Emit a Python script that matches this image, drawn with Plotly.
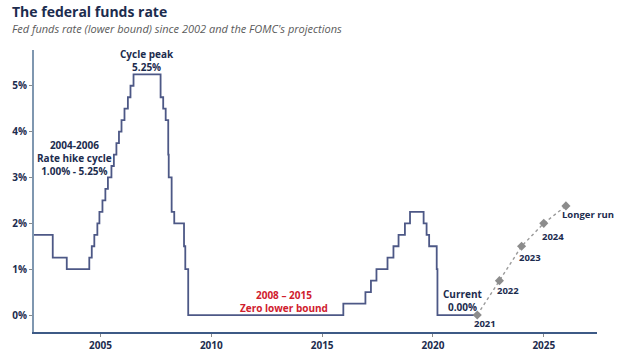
import plotly.graph_objects as go

# Fed funds rate (lower bound) change dates and levels
change_dates = [
    "2002-01-01", "2002-11-06", "2003-06-25", "2004-06-30", "2004-08-10", "2004-09-21",
    "2004-11-10", "2004-12-14", "2005-02-02", "2005-03-22", "2005-05-03", "2005-06-30",
    "2005-08-09", "2005-09-20", "2005-11-01", "2005-12-13", "2006-01-31", "2006-03-28",
    "2006-05-10", "2006-06-29", "2007-09-18", "2007-10-31", "2007-12-11", "2008-01-22",
    "2008-01-30", "2008-03-18", "2008-04-30", "2008-10-08", "2008-10-29", "2008-12-16",
    "2015-12-16", "2016-12-14", "2017-03-15", "2017-06-14", "2017-12-13", "2018-03-21",
    "2018-06-13", "2018-09-26", "2018-12-19", "2019-07-31", "2019-09-18", "2019-10-30",
    "2020-03-03", "2020-03-15", "2021-12-31",
]
rates = [
    1.75, 1.25, 1.00, 1.25, 1.50, 1.75,
    2.00, 2.25, 2.50, 2.75, 3.00, 3.25,
    3.50, 3.75, 4.00, 4.25, 4.50, 4.75,
    5.00, 5.25, 4.75, 4.50, 4.25, 3.50,
    3.00, 2.25, 2.00, 1.50, 1.00, 0.00,
    0.25, 0.50, 0.75, 1.00, 1.25, 1.50,
    1.75, 2.00, 2.25, 2.00, 1.75, 1.50,
    1.00, 0.00, 0.00,
]

# FOMC projections
proj_labels = ["2021", "2022", "2023", "2024", "Longer run"]
proj_dates = ["2021-12-31", "2022-12-31", "2023-12-31", "2024-12-31", "2025-12-31"]
proj_values = [0.00, 0.75, 1.50, 2.00, 2.38]

y_ticks = [0, 1, 2, 3, 4, 5]
y_tick_text = ["0%", "1%", "2%", "3%", "4%", "5%"]
x_ticks = ["2005-01-01", "2010-01-01", "2015-01-01", "2020-01-01", "2025-01-01"]
x_tick_text = ["2005", "2010", "2015", "2020", "2025"]

NAVY = "#1c2c4e"
LINE = "#4d5886"
RED = "#d0202e"
FONT = "Open Sans"

W, H = 624, 352
L, R, T, B = 34, 27, 50, 20
PW, PH = W - L - R, H - T - B

def px(xp):
    return (xp - L) / PW

def py(yp):
    return (H - B - yp) / PH

fig = go.Figure()
fig.add_trace(go.Scatter(
    x=change_dates, y=rates, mode="lines", line=dict(color=LINE, width=1.8, shape="hv"),
    hoverinfo="skip", showlegend=False, cliponaxis=False,
))
fig.add_trace(go.Scatter(
    x=proj_dates, y=proj_values, mode="lines+markers",
    line=dict(color="#9a9a9a", width=1.4, dash="dot"),
    marker=dict(symbol="diamond", size=7, color="#8c8c8c"),
    hoverinfo="skip", showlegend=False, cliponaxis=False,
))

ann = []
def add(text, x, y, color=NAVY, size=10, xanchor="center"):
    ann.append(dict(text=text, x=x, y=y, xref="x", yref="y", showarrow=False,
                    font=dict(family=FONT, size=size, color=color, weight=700),
                    xanchor=xanchor, yanchor="middle", align="center"))

add("Cycle peak<br>5.25%", "2007-02-03", 5.55)
add("2004-2006<br>Rate hike cycle<br>1.00% - 5.25%", "2003-11-01", 3.43)
add("2008 – 2015<br>Zero lower bound", "2013-04-08", 0.30, color=RED)
add("Current<br>0.00%", "2021-05-08", 0.31)
label_pos = [("2022-05-05", -0.19), ("2023-05-18", 0.53), ("2024-05-15", 1.25),
             ("2025-05-30", 1.71), ("2026-12-28", 2.19)]
for lab, (lx, ly) in zip(proj_labels, label_pos):
    add(lab, lx, ly, size=9.5)

ann.append(dict(text="<b>The federal funds rate</b>", x=px(10), y=py(12),
                xref="paper", yref="paper", showarrow=False, xanchor="left", yanchor="middle",
                font=dict(family=FONT, size=14, color=NAVY)))
ann.append(dict(text="<i>Fed funds rate (lower bound) since 2002 and the FOMC's projections</i>",
                x=px(10), y=py(28), xref="paper", yref="paper", showarrow=False,
                xanchor="left", yanchor="middle",
                font=dict(family=FONT, size=11, color="#5a5a5a")))

fig.update_layout(
    width=W, height=H,
    margin=dict(l=L, r=R, t=T, b=B, autoexpand=False),
    paper_bgcolor="white", plot_bgcolor="white",
    annotations=ann,
    xaxis=dict(
        type="date", range=["2002-01-01", "2027-05-27"], showgrid=False, zeroline=False,
        automargin=False,
        tickvals=x_ticks, ticktext=x_tick_text, ticks="outside", ticklen=3, tickcolor="#8a8a8a",
        showline=True, linecolor="#3d5a86", linewidth=1.5,
        tickfont=dict(family=FONT, size=10, color=NAVY, weight=700),
    ),
    yaxis=dict(
        range=[-0.37, 5.78], showgrid=False, zeroline=False, automargin=False,
        tickvals=y_ticks, ticktext=y_tick_text, ticks="outside", ticklen=3, tickcolor="#8a8a8a",
        showline=True, linecolor="#7f97b0", linewidth=2,
        tickfont=dict(family=FONT, size=10, color=NAVY, weight=700),
    ),
)

fig.write_html("out.html")
